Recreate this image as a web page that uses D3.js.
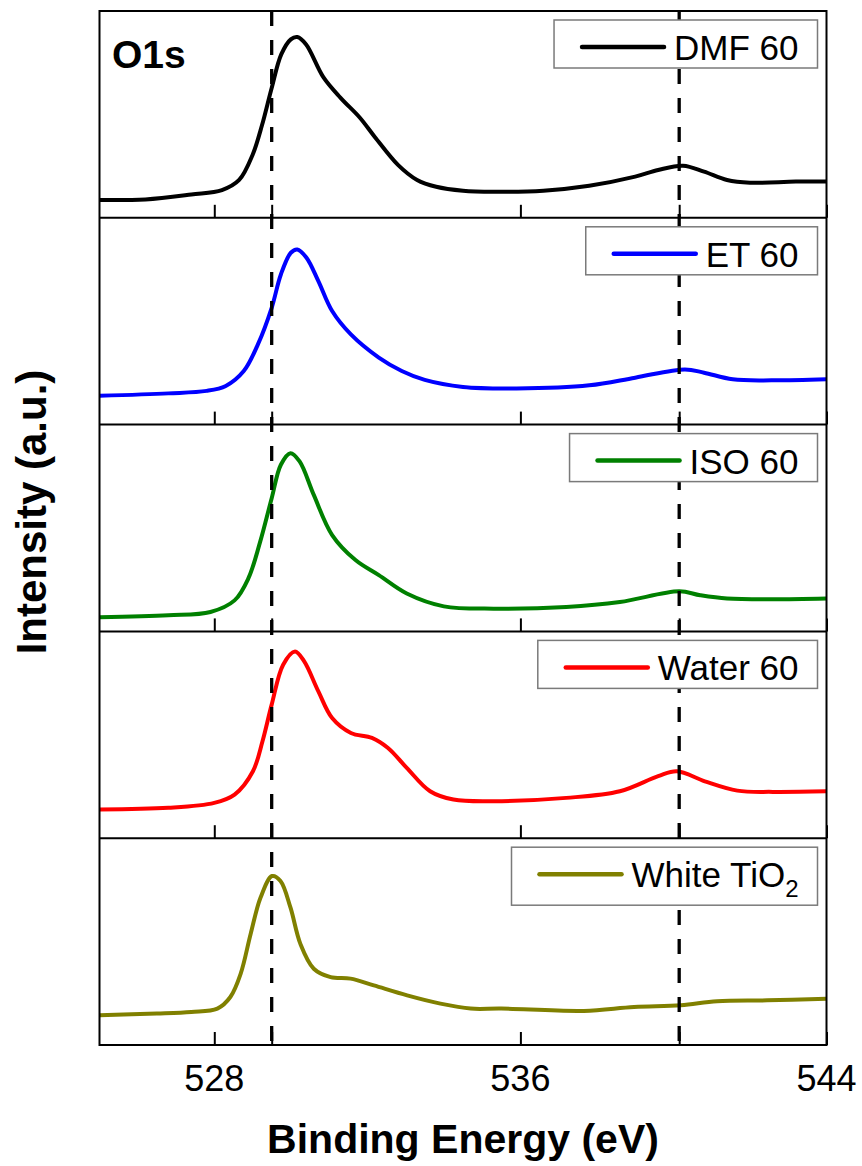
<!DOCTYPE html>
<html>
<head>
<meta charset="utf-8">
<script src="https://cdn.jsdelivr.net/npm/d3@7"></script>
<style>
	body { margin: 0; background: #fff; }
	svg { display: block; font-family: "Liberation Sans", Arial, sans-serif; }
</style>
</head>
<body>
<svg id="fig-xps" width="862" height="1166"></svg>
<script>
// x axis (binding energy, eV)
const energyDomain = [525, 544];
const energyTicks = [528, 536, 544];
const referenceLines = [529.5, 540.15];

// one panel per sample, top to bottom
const sampleNames = ["DMF 60", "ET 60", "ISO 60", "Water 60", "White TiO"];
const sampleColors = ["#000000", "#0000ff", "#008000", "#ff0000", "#808000"];

// intensities, [energy, a.u. (0 = panel bottom, 100 = panel top)]
const dmf60 = [
	[525.0, 8.6], [526.2, 8.9], [527.4, 11.3], [528.2, 13.4], [528.65, 18.3], [529.0, 30.4],
	[529.25, 45], [529.5, 62.8], [529.75, 79], [530.0, 86.3], [530.17, 87.4], [530.4, 83.8],
	[530.85, 68], [531.3, 58], [531.8, 48.5], [532.2, 39], [532.8, 25.6], [533.3, 18.3],
	[533.8, 15], [534.5, 13.1], [535.3, 12.6], [536.6, 13.1], [537.8, 15.5], [539.0, 19.9],
	[539.6, 23.1], [540.25, 25.2], [540.8, 22.3], [541.4, 18.3], [542.0, 17], [543.2, 17.5],
	[544.0, 17.5]
];
const et60 = [
	[525.0, 13.9], [526.8, 15.1], [527.8, 16.3], [528.3, 18.7], [528.77, 25.9], [529.14, 38.8],
	[529.5, 56.5], [529.74, 72.6], [530.0, 83.1], [530.17, 84.7], [530.41, 80.7], [530.72, 69.4],
	[531.08, 54.9], [531.57, 43.6], [532.3, 32.4], [532.9, 25.9], [533.5, 21.6], [534.5, 18.2],
	[535.9, 17.5], [537.8, 19], [539.0, 22.7], [540.3, 26.7], [540.8, 25.1], [541.55, 21.9],
	[542.6, 21.4], [544.0, 21.9]
];
const iso60 = [
	[525.0, 6.9], [526.8, 7.8], [527.9, 9.4], [528.53, 15], [528.89, 25.6], [529.2, 43.4],
	[529.5, 64.4], [529.74, 80.6], [529.99, 86.2], [530.23, 82.2], [530.6, 66], [531.08, 46.6],
	[531.69, 34.5], [532.3, 27.2], [533.03, 18.3], [534.0, 12.1], [535.3, 11], [537.2, 11.8],
	[538.6, 14.2], [540.15, 19.4], [540.7, 17.5], [541.4, 15.9], [542.6, 15.5], [544.0, 15.9]
];
const water60 = [
	[525.0, 13.9], [526.8, 14.7], [528.0, 17.1], [528.53, 21.1], [529.01, 32.4], [529.26, 46.9],
	[529.5, 64.6], [529.8, 83.9], [530.11, 90.3], [530.35, 85.5], [530.72, 71], [531.08, 58.1],
	[531.57, 50.9], [532.12, 48.5], [532.54, 43.6], [533.03, 34], [533.64, 22.7], [534.25, 18.7],
	[535.3, 17.9], [537.2, 19.5], [538.6, 22.7], [539.6, 30], [540.09, 32.4], [540.82, 27.5],
	[541.67, 23], [542.6, 22.4], [544.0, 22.7]
];
const whiteTiO2 = [
	[525.0, 14.4], [526.5, 15.2], [527.4, 16], [528.08, 17.6], [528.42, 23.2], [528.69, 34.5],
	[528.95, 53.7], [529.21, 71.3], [529.51, 81.7], [529.73, 79.3], [529.99, 66.5], [530.25, 48.9],
	[530.6, 36.9], [531.04, 32.8], [531.56, 32.1], [532.17, 28.8], [533.04, 24], [533.91, 20],
	[534.7, 17.6], [535.5, 17.6], [537.66, 16.5], [538.97, 18.4], [540.19, 19.2], [541.14, 21.2],
	[542.45, 21.6], [544.0, 22.4]
];
const sampleData = [dmf60, et60, iso60, water60, whiteTiO2];

const svg = d3.select("#fig-xps");
const plotLeft = 99.5, plotRight = 826.5, plotTop = 11, plotBottom = 1045;
const panelH = (plotBottom - plotTop) / sampleNames.length;

const x = d3.scaleLinear().domain(energyDomain).range([plotLeft, plotRight]);
const line = d3.line().curve(d3.curveCatmullRom.alpha(0.5));

sampleNames.forEach((name, i) => {
	const top = plotTop + i * panelH;
	const bottom = top + panelH;
	const y = d3.scaleLinear().domain([0, 100]).range([bottom, top]);
	const panel = svg.append("g").attr("class", "panel");

	panel.append("path")
		.attr("d", line(sampleData[i].map(d => [x(d[0]), y(d[1])])))
		.attr("fill", "none")
		.attr("stroke", sampleColors[i])
		.attr("stroke-width", 4)
		.attr("stroke-linejoin", "round");

	// inward ticks on the bottom edge of every panel
	const axis = panel.append("g")
		.attr("transform", `translate(0,${bottom})`)
		.call(d3.axisBottom(x).tickValues(energyTicks.concat(referenceLines)).tickSizeInner(-13).tickSizeOuter(0).tickFormat(""));
	axis.select(".domain").remove();
	axis.selectAll("line").attr("stroke", "#000").attr("stroke-width", 2);

	if (i < sampleNames.length - 1) {
		panel.append("line")
			.attr("x1", plotLeft).attr("x2", plotRight)
			.attr("y1", bottom).attr("y2", bottom)
			.attr("stroke", "#000").attr("stroke-width", 2);
	}
});

// dashed reference lines across all panels
svg.selectAll(".ref")
	.data(referenceLines)
	.join("line")
	.attr("class", "ref")
	.attr("x1", d => x(d)).attr("x2", d => x(d))
	.attr("y1", plotTop).attr("y2", plotBottom)
	.attr("stroke", "#000")
	.attr("stroke-width", 3.3)
	.attr("stroke-dasharray", "15,14");

// legends (drawn after the dashed lines so the white box hides them)
sampleNames.forEach((name, i) => {
	const top = plotTop + i * panelH;
	const g = svg.append("g").attr("class", "legend");
	const box = g.append("rect");
	const label = g.append("text")
		.attr("font-size", 35)
		.attr("fill", "#000")
		.text(name);
	if (i === sampleNames.length - 1) {
		label.append("tspan").attr("font-size", 24).attr("dy", 10).text("2");
	}
	const textW = label.node().getComputedTextLength();
	const boxRight = plotRight - 9;
	const textX = boxRight - 19 - textW;
	const boxTop = top + 9;
	const boxH = i === sampleNames.length - 1 ? 58 : 48;
	label.attr("x", textX).attr("y", boxTop + 40);
	g.append("line")
		.attr("x1", textX - 92).attr("x2", textX - 10)
		.attr("y1", boxTop + 27).attr("y2", boxTop + 27)
		.attr("stroke", sampleColors[i])
		.attr("stroke-width", 4.5)
		.attr("stroke-linecap", "round");
	box.attr("x", textX - 120).attr("y", boxTop)
		.attr("width", boxRight - (textX - 120)).attr("height", boxH)
		.attr("fill", "#fff")
		.attr("stroke", "#7a7a7a")
		.attr("stroke-width", 1.5);
});

// outer frame
svg.append("rect")
	.attr("x", plotLeft).attr("y", plotTop)
	.attr("width", plotRight - plotLeft).attr("height", plotBottom - plotTop)
	.attr("fill", "none")
	.attr("stroke", "#000")
	.attr("stroke-width", 2);

// tick labels
svg.selectAll(".tick-label")
	.data(energyTicks)
	.join("text")
	.attr("class", "tick-label")
	.attr("x", d => x(d))
	.attr("y", plotBottom + 46)
	.attr("text-anchor", "middle")
	.attr("font-size", 36)
	.text(d => d);

svg.append("text")
	.attr("x", 112).attr("y", 68)
	.attr("font-size", 39)
	.attr("font-weight", "bold")
	.text("O1s");

svg.append("text")
	.attr("x", (plotLeft + plotRight) / 2)
	.attr("y", 1153)
	.attr("text-anchor", "middle")
	.attr("font-size", 41)
	.attr("font-weight", "bold")
	.text("Binding Energy (eV)");

svg.append("text")
	.attr("transform", "translate(46,512) rotate(-90)")
	.attr("text-anchor", "middle")
	.attr("font-size", 42)
	.attr("font-weight", "bold")
	.text("Intensity (a.u.)");
</script>
</body>
</html>
